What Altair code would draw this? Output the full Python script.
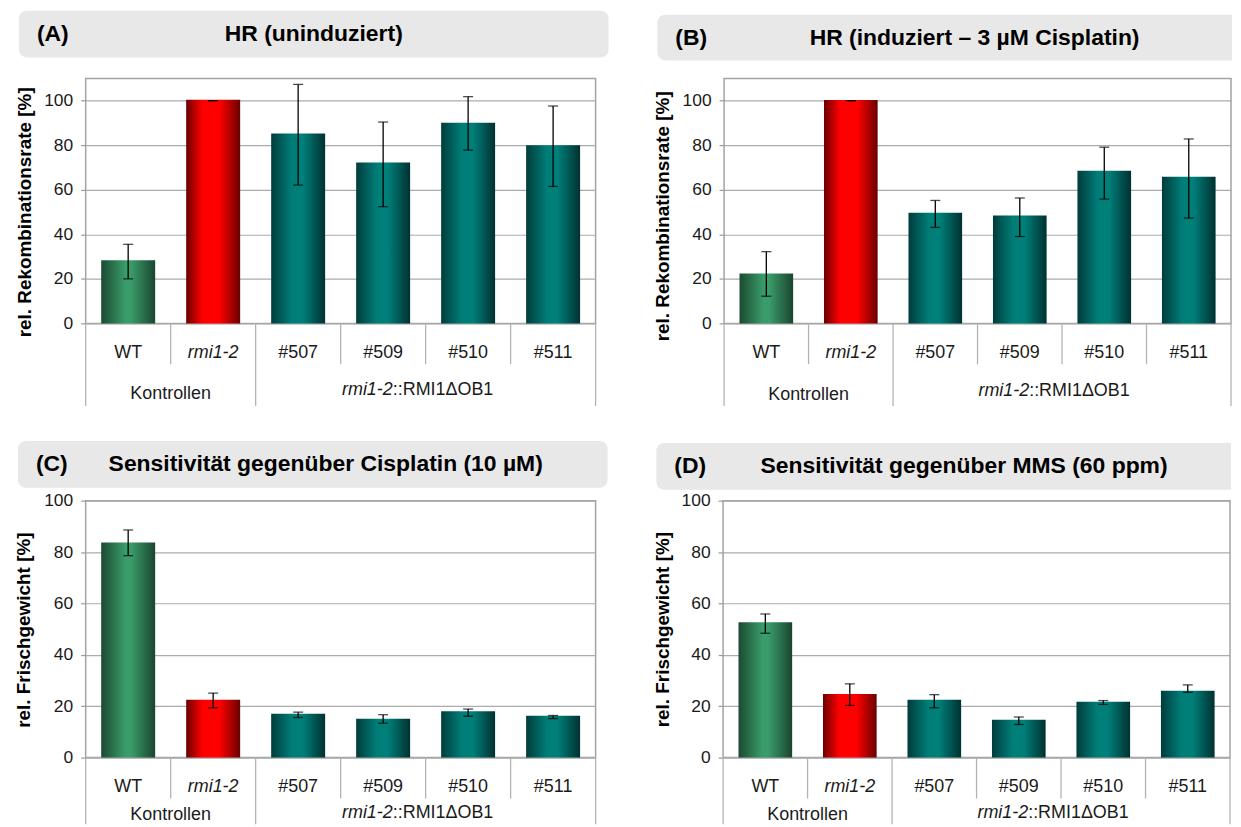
import altair as alt
import pandas as pd

# ---------------- data ----------------
cats = ["WT", "rmi1-2", "#507", "#509", "#510", "#511"]
groups = ["wt", "mut", "line", "line", "line", "line"]

a_mean = [28.4, 100.4, 85.2, 72.2, 90.1, 80.0]
a_lo = [20.0, 100.0, 62.1, 52.4, 77.8, 61.5]
a_hi = [35.5, 100.0, 107.3, 90.4, 101.8, 97.6]

b_mean = [22.4, 100.3, 49.7, 48.4, 68.5, 65.8]
b_lo = [12.2, 100.0, 43.1, 39.0, 55.8, 47.3]
b_hi = [32.2, 100.0, 55.2, 56.3, 79.1, 82.8]

c_mean = [83.7, 22.5, 17.1, 15.1, 18.0, 16.3]
c_lo = [78.6, 19.4, 15.6, 13.4, 16.1, 15.2]
c_hi = [88.6, 25.1, 17.7, 16.7, 18.9, 16.4]

d_mean = [52.7, 24.8, 22.5, 14.7, 21.7, 26.0]
d_lo = [48.4, 20.3, 19.4, 12.9, 20.7, 25.4]
d_hi = [55.9, 28.7, 24.5, 15.8, 22.2, 28.3]

letters = ["(A)", "(B)", "(C)", "(D)"]
titles = [
    "HR (uninduziert)",
    "HR (induziert \u2013 3 \u00b5M Cisplatin)",
    "Sensitivit\u00e4t gegen\u00fcber Cisplatin (10 \u00b5M)",
    "Sensitivit\u00e4t gegen\u00fcber MMS (60 ppm)",
]
ytitles = [
    "rel. Rekombinationsrate [%]",
    "rel. Rekombinationsrate [%]",
    "rel. Frischgewicht [%]",
    "rel. Frischgewicht [%]",
]
yticks = [0, 20, 40, 60, 80, 100]
group_ctrl = "Kontrollen"
group_line_it = "rmi1-2"
group_line_rest = "::RMI1\u0394OB1"

# ---------------- style ----------------
FONT = "Liberation Sans"
GRAD = {
    "wt": [(0, "#1b4a31"), (0.45, "#3a9c6a"), (0.55, "#3a9c6a"), (1, "#1a452f")],
    "mut": [(0, "#6a0000"), (0.3, "#ff0000"), (0.62, "#ff0000"), (1, "#6a0000")],
    "line": [(0, "#003c3c"), (0.38, "#007d77"), (0.58, "#00807a"), (1, "#003131")],
}


def grad(k):
    return alt.LinearGradient(
        gradient="linear", x1=0, x2=1, y1=0, y2=0,
        stops=[alt.GradientStop(offset=o, color=c) for o, c in GRAD[k]],
    )


def panel(mean, lo, hi, letter, title, ytitle, ymax, W, H, g):
    df = pd.DataFrame({"cat": cats, "grp": groups, "v": mean, "lo": lo, "hi": hi})
    one = pd.DataFrame({"k": [0]})
    xs = alt.Scale(domain=cats, paddingInner=0, paddingOuter=0)
    ys = alt.Scale(domain=[0, ymax], nice=False)
    xaxis = alt.Axis(
        title=None, labelAngle=0, ticks=False, domain=False, grid=False,
        labelPadding=29, labelBaseline="middle", labelFont=FONT, labelFontSize=18,
        labelColor="#1a1a1a",
        labelFontStyle=alt.condition("datum.value == 'rmi1-2'", alt.value("italic"), alt.value("normal")),
    )
    yaxis = alt.Axis(
        title=ytitle, values=yticks, grid=True, gridColor="#ababab", gridWidth=1.2,
        domain=False, ticks=True, tickSize=5, tickColor="#9a9a9a", tickWidth=1.2,
        labelPadding=8, labelFont=FONT, labelFontSize=17.5, labelColor="#1a1a1a",
        titleFont=FONT, titleFontSize=19, titleFontWeight="bold", titleColor="#000000",
        titleAngle=270, titleX=g["tx"], titleY=g["ty"], titleAlign="center", titleBaseline="middle",
    )
    X = alt.X("cat:N", scale=xs, axis=xaxis)
    X0 = alt.X("cat:N", scale=xs, axis=xaxis, bandPosition=0)
    X1 = alt.X("cat:N", scale=xs, axis=xaxis, bandPosition=1)
    Yv = alt.Y("v:Q", scale=ys, axis=yaxis)

    layers = []
    # invisible frame fixing the cell size
    layers.append(alt.Chart(one).mark_rect(opacity=0).encode(
        x=alt.value(g["fx"][0]), x2=alt.value(g["fx"][1]),
        y=alt.value(g["fy"][0]), y2=alt.value(g["fy"][1])))
    # title box
    if g["square_right"]:
        box = alt.Chart(one).mark_rect(color="#e8e8e8", cornerRadiusTopLeft=8, cornerRadiusBottomLeft=8)
    else:
        box = alt.Chart(one).mark_rect(color="#e8e8e8", cornerRadius=8)
    layers.append(box.encode(
        x=alt.value(g["bx"][0]), x2=alt.value(g["bx"][1]),
        y=alt.value(g["by"][0]), y2=alt.value(g["by"][1])))
    layers.append(alt.Chart(one).mark_text(
        font=FONT, fontSize=23, fontWeight="bold", align="left", baseline="middle", color="#000000"
    ).encode(x=alt.value(g["lx"]), y=alt.value(g["ly"]), text=alt.value(letter)))
    layers.append(alt.Chart(one).mark_text(
        font=FONT, fontSize=23, fontWeight="bold", align="center", baseline="middle", color="#000000"
    ).encode(x=alt.value(g["ttx"]), y=alt.value(g["ly"]), text=alt.value(title)))

    # bars
    for k in ["wt", "mut", "line"]:
        layers.append(alt.Chart(df).transform_filter(alt.datum.grp == k).mark_bar(
            width=alt.RelativeBandSize(0.635), color=grad(k)
        ).encode(x=X, y=Yv))

    # error bars
    layers.append(alt.Chart(df).mark_rule(color="#000000", strokeWidth=1.3).encode(
        x=X, y=alt.Y("lo:Q", scale=ys, axis=yaxis), y2="hi:Q"))
    for f in ["lo", "hi"]:
        layers.append(alt.Chart(df).mark_tick(
            color="#000000", thickness=1.3, size=10, orient="horizontal"
        ).encode(x=X, y=alt.Y(f + ":Q", scale=ys, axis=yaxis)))

    # separators below the axis
    short_df = pd.DataFrame({"cat": ["rmi1-2", "#509", "#510", "#511"]})
    long_df = pd.DataFrame({"cat": ["WT", "#507"]})
    end_df = pd.DataFrame({"cat": ["#511"]})
    sep = dict(color="#b3b3b3", strokeWidth=1.3)
    layers.append(alt.Chart(short_df).mark_rule(**sep).encode(
        x=X0, y=alt.value(H), y2=alt.value(H + 41)))
    layers.append(alt.Chart(long_df).mark_rule(**sep).encode(
        x=X0, y=alt.value(H), y2=alt.value(H + g["long"])))
    layers.append(alt.Chart(end_df).mark_rule(**sep).encode(
        x=X1, y=alt.value(H), y2=alt.value(H + g["long"])))

    # group labels
    ctrl_df = pd.DataFrame({"cat": ["rmi1-2"], "t": [group_ctrl]})
    line_df = pd.DataFrame({"cat": ["#510"], "t1": [group_line_it], "t2": [group_line_rest]})
    txt = dict(font=FONT, fontSize=18, baseline="middle", color="#1a1a1a")
    layers.append(alt.Chart(ctrl_df).mark_text(align="center", **txt).encode(
        x=X0, y=alt.value(H + g["gk"]), text="t:N"))
    layers.append(alt.Chart(line_df).mark_text(align="right", fontStyle="italic", dx=-33, **txt).encode(
        x=X0, y=alt.value(H + g["gr"]), text="t1:N"))
    layers.append(alt.Chart(line_df).mark_text(align="left", dx=-33, **txt).encode(
        x=X0, y=alt.value(H + g["gr"]), text="t2:N"))

    return alt.layer(*layers).properties(width=W, height=H)


# geometry of each cell relative to its plot area (pixels)
geo = [
    dict(fx=(-76, 556), fy=(-68, 348), bx=(-67, 525), by=(-68, -21), square_right=False,
         lx=-49, ttx=229, ly=-44.5, tx=-61.5, ty=134, gk=71, gr=67, long=83),
    dict(fx=(-83, 510), fy=(-64, 352), bx=(-67, 510), by=(-64, -18), square_right=True,
         lx=-49, ttx=251.5, ly=-41, tx=-61.5, ty=138, gk=72, gr=68, long=83),
    dict(fx=(-77, 555), fy=(-70, 325), bx=(-68, 524), by=(-60, -13), square_right=False,
         lx=-50, ttx=241, ly=-36.5, tx=-62.5, ty=129.5, gk=58, gr=56, long=67),
    dict(fx=(-83, 510), fy=(-70, 325), bx=(-67, 510), by=(-58, -11), square_right=True,
         lx=-49, ttx=242, ly=-34.5, tx=-60.5, ty=129, gk=58, gr=56, long=67),
]

pa = panel(a_mean, a_lo, a_hi, letters[0], titles[0], ytitles[0], 110, 512, 246, geo[0])
pb = panel(b_mean, b_lo, b_hi, letters[1], titles[1], ytitles[1], 110, 509, 246, geo[1])
pc = panel(c_mean, c_lo, c_hi, letters[2], titles[2], ytitles[2], 100, 512, 258, geo[2])
pd_ = panel(d_mean, d_lo, d_hi, letters[3], titles[3], ytitles[3], 100, 509, 258, geo[3])

top = alt.hconcat(pa, pb, spacing=0)
bottom = alt.hconcat(pc, pd_, spacing=0)
chart = alt.vconcat(top, bottom, spacing=0).properties(
    padding=0, background="white"
).configure_view(stroke="#a3a3a3", strokeWidth=1.5)

chart.save("out.html", embed_options={"renderer": "svg", "actions": False})
